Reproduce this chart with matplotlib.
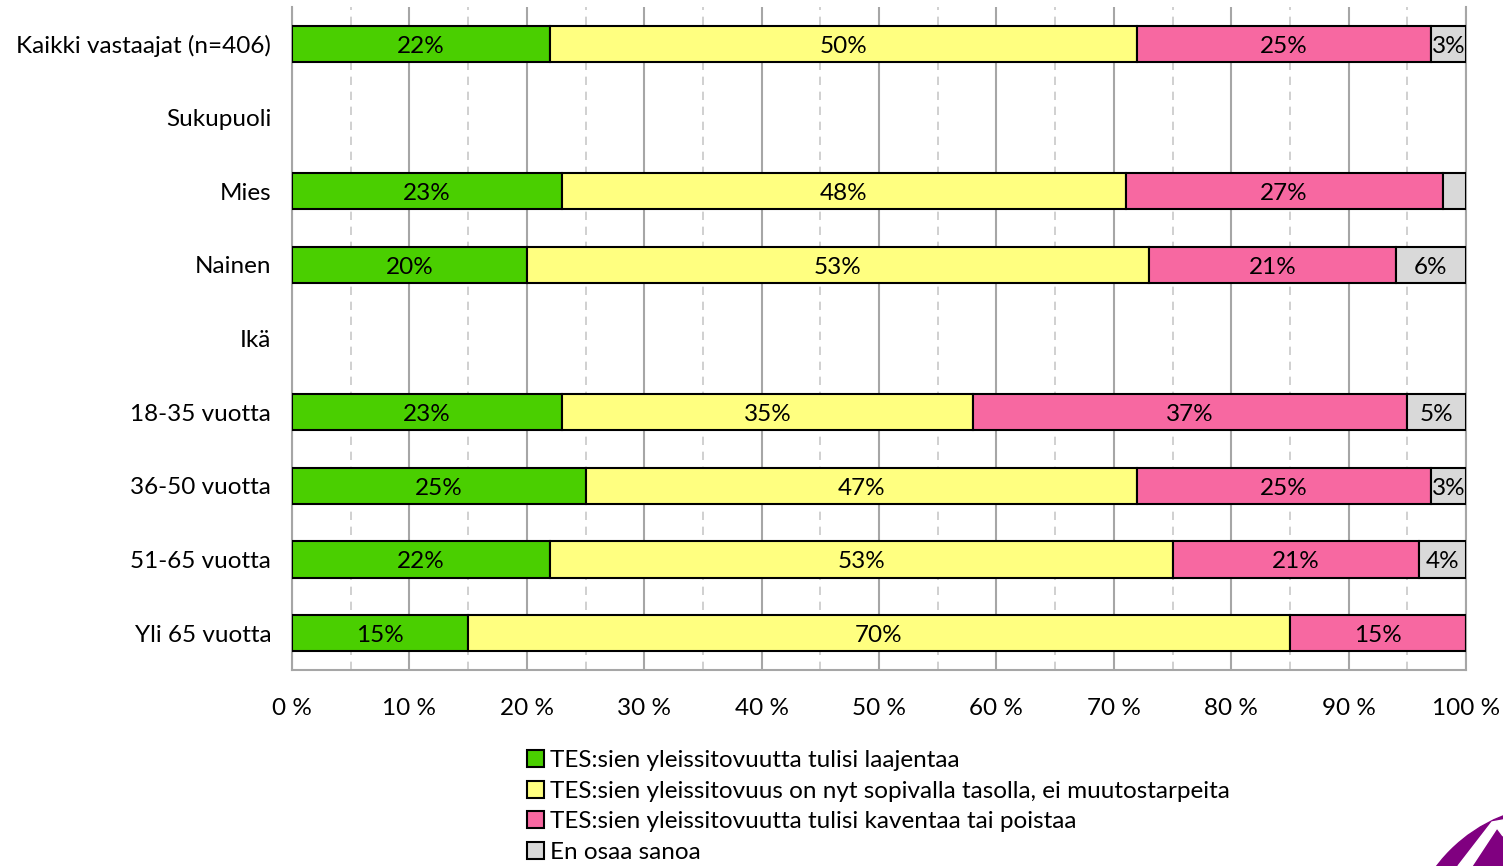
import numpy as np
import matplotlib.pyplot as plt
from matplotlib.patches import Ellipse, Polygon

categories = ["Kaikki vastaajat (n=406)", "Sukupuoli", "Mies", "Nainen", "Ikä",
              "18-35 vuotta", "36-50 vuotta", "51-65 vuotta", "Yli 65 vuotta"]
laajentaa = [22, 0, 23, 20, 0, 23, 25, 22, 15]
sopiva = [50, 0, 48, 53, 0, 35, 47, 53, 70]
kaventaa = [25, 0, 27, 21, 0, 37, 25, 21, 15]
eos = [3, 0, 2, 6, 0, 5, 3, 4, 0]
has_bar = [True, False, True, True, False, True, True, True, True]

series_names = ["TES:sien yleissitovuutta tulisi laajentaa",
                "TES:sien yleissitovuus on nyt sopivalla tasolla, ei muutostarpeita",
                "TES:sien yleissitovuutta tulisi kaventaa tai poistaa",
                "En osaa sanoa"]
colors = ["#4ACF00", "#FFFF80", "#F768A1", "#D9D9D9"]

plt.rcParams['font.family'] = ['Lato', 'DejaVu Sans']
FS = 17.5

fig = plt.figure(figsize=(15.03, 8.66), dpi=100)
ax = fig.add_axes([0.1943, 0.2263, 0.7811, 0.7656])

y = np.arange(len(categories))
left = np.zeros(len(categories))
for vals, name, col in zip([laajentaa, sopiva, kaventaa, eos], series_names, colors):
    vals = np.array(vals, dtype=float)
    w = np.where(has_bar, vals, np.nan)
    ax.barh(y, w, left=left, height=0.49, color=col, edgecolor="black",
            linewidth=1.5, label=name, zorder=3)
    for i, v in enumerate(vals):
        if has_bar[i] and v >= 3:
            ax.text(left[i] + v / 2, y[i] + 0.03, f"{int(v)}%", ha="center",
                    va="center", fontsize=FS, zorder=4)
    left = left + vals

ax.set_xlim(0, 100)
ax.set_ylim(len(categories) - 0.5, -0.5)
ax.set_yticks(y)
ax.set_yticklabels(categories, fontsize=FS)
ax.set_xticks(np.arange(0, 101, 10))
ax.set_xticklabels([f"{t} %" for t in range(0, 101, 10)], fontsize=FS)
ax.set_xticks(np.arange(5, 100, 10), minor=True)
ax.tick_params(axis="y", length=0, pad=15)
ax.tick_params(axis="x", length=0, pad=20)
ax.tick_params(axis="x", which="minor", length=0)
ax.grid(axis="x", which="major", color="#A6A6A6", linewidth=1.5, zorder=0)
ax.grid(axis="x", which="minor", color="#C8C8C8", linewidth=1.2,
        linestyle=(0, (5, 4)), zorder=0)
for s in ["left", "bottom", "right"]:
    ax.spines[s].set_color("#A6A6A6")
    ax.spines[s].set_linewidth(1.5)
ax.spines["top"].set_visible(False)

fig.legend(loc="upper left", bbox_to_anchor=(0.3425, 0.148), frameon=False,
           fontsize=FS, handlelength=0.7, handleheight=0.7, handletextpad=0.25,
           labelspacing=0.4, borderpad=0)

# logo corner
logo = Ellipse((1560 / 1503, -94 / 866), 310 / 1503, 310 / 866,
               transform=fig.transFigure, color="#800080")
fig.patches.append(logo)
stripe = Polygon([[1458 / 1503, 0.0], [1472 / 1503, 0.0], [1497 / 1503, 38 / 866],
                  [1503 / 1503, 30 / 866], [1503 / 1503, 46 / 866],
                  [1492 / 1503, 44 / 866]],
                 closed=True, transform=fig.transFigure, color="white")
fig.patches.append(stripe)

fig.savefig("out.png", dpi=100)
